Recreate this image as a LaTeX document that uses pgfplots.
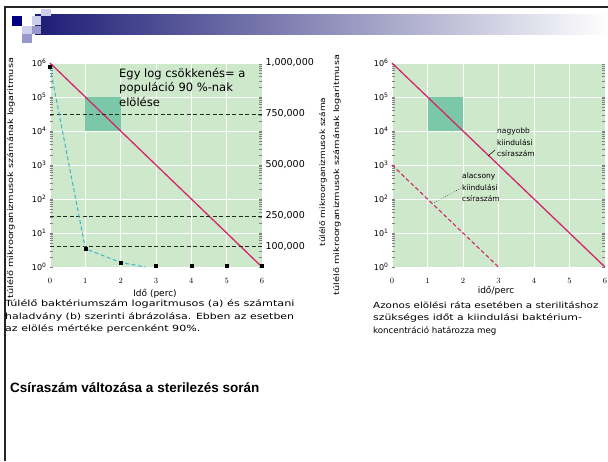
\documentclass[border=0pt]{standalone}
\usepackage{fontspec}
\setmainfont{DejaVu Sans}
\newfontfamily\titlefont{Liberation Sans}
\usepackage{graphicx}
\usepackage{pgfplots}
\pgfplotsset{compat=1.18}
\definecolor{bggreen}{RGB}{206,232,204}
\definecolor{tealc}{RGB}{122,200,168}
\definecolor{redl}{RGB}{212,38,108}
\definecolor{cyanl}{RGB}{60,182,202}
\definecolor{navyh}{RGB}{28,28,118}
\definecolor{navys}{RGB}{0,0,128}
\definecolor{lav1}{RGB}{206,206,234}
\definecolor{lav2}{RGB}{152,152,204}
\definecolor{dashc}{RGB}{30,45,30}
\begin{document}
\begin{tikzpicture}[x=1pt,y=1pt]
\path[use as bounding box, fill=white] (0,0) rectangle (608,461);
% header
\shade[left color=navyh, right color=white] (35,426) rectangle (608,446);
\fill[navys] (12,435) rectangle (22,445);
\fill[lav1] (32,436) rectangle (41,445);
\fill[lav1] (41,445) rectangle (51,452);
\fill[lav1] (22,427) rectangle (32,435);
\fill[lav2] (32,427) rectangle (41,435);
\fill[lav2] (22,418) rectangle (32,427);
\draw[line width=2pt, black!85] (5,0) -- (5,454) -- (608,454);

% ---------- left chart (log) ----------
\begin{axis}[anchor=south west, at={(50pt,194pt)}, scale only axis, width=212pt, height=204pt,
    xmin=0, xmax=6, ymode=log, ymin=1, ymax=1e6,
    axis background/.style={fill=bggreen},
    axis line style={draw=none}, major tick length=0pt,
    xtick={0,1,2,3,4,5,6},
    ytick={1,10,100,1000,10000,100000,1000000},
    yticklabels={10\textsuperscript{0},10\textsuperscript{1},10\textsuperscript{2},10\textsuperscript{3},10\textsuperscript{4},10\textsuperscript{5},10\textsuperscript{6}},
    ticklabel style={font=\fontsize{8}{9}\selectfont},
    xticklabel style={yshift=-8pt},
    grid=major, grid style={white, line width=0.7pt},
    clip=false]
\addplot[fill=tealc, draw=none] coordinates {(1,1e4) (2,1e4) (2,1e5) (1,1e5)} -- cycle;
\addplot[redl, line width=1.3pt] coordinates {(0,1e6) (6,1)};
\end{axis}
% ---------- left chart (linear) ----------
\begin{axis}[anchor=south west, at={(50pt,194pt)}, scale only axis, width=212pt, height=204pt,
  xmin=0, xmax=6, ymin=0, ymax=1e6, axis x line=none, axis y line*=right,
  y axis line style={draw=none}, major tick length=0pt, scaled y ticks=false,
  ytick={100000,250000,500000,750000,1000000},
  yticklabels={{100,000},{250,000},{500,000},{750,000},{1,000,000}},
  yticklabel style={font=\fontsize{9.5}{10}\selectfont, anchor=west},
  clip=false]
\addplot[dashc, line width=0.9pt, dash pattern=on 4pt off 2.5pt] coordinates {(0,750000) (6,750000)};
\addplot[dashc, line width=0.9pt, dash pattern=on 4pt off 2.5pt] coordinates {(0,250000) (6,250000)};
\addplot[dashc, line width=0.9pt, dash pattern=on 4pt off 2.5pt] coordinates {(0,100000) (6,100000)};
\addplot[cyanl, line width=1pt, dash pattern=on 4pt off 2.5pt] coordinates {(0,980000) (1,90000) (2,22000) (2.7,0)};
\addplot[only marks, mark=square*, mark size=1.6pt, black] coordinates {(0,980000) (1,90000) (2,22000) (3,5000) (4,5000) (5,5000) (6,5000)};
\end{axis}

% ---------- right chart ----------
\begin{axis}[anchor=south west, at={(392pt,194pt)}, scale only axis, width=213pt, height=204pt,
    xmin=0, xmax=6, ymode=log, ymin=1, ymax=1e6,
    axis background/.style={fill=bggreen},
    axis line style={draw=none}, major tick length=0pt,
    xtick={0,1,2,3,4,5,6},
    ytick={1,10,100,1000,10000,100000,1000000},
    yticklabels={10\textsuperscript{0},10\textsuperscript{1},10\textsuperscript{2},10\textsuperscript{3},10\textsuperscript{4},10\textsuperscript{5},10\textsuperscript{6}},
    ticklabel style={font=\fontsize{8}{9}\selectfont},
    xticklabel style={yshift=-8pt},
    grid=major, grid style={white, line width=0.7pt},
    clip=false]
\addplot[fill=tealc, draw=none] coordinates {(1,1e4) (2,1e4) (2,1e5) (1,1e5)} -- cycle;
\addplot[redl, line width=1.3pt] coordinates {(0,1e6) (6,1)};
\addplot[redl, line width=1.1pt, dash pattern=on 4pt off 2.5pt] coordinates {(0,1000) (3,1)};
\end{axis}

% ---------- texts ----------
\node[rotate=90, font=\fontsize{7.5}{8}\selectfont] at (11,283) {\scalebox{1.3}[1]{túlélő mikroorganizmusok számának logaritmusa}};
\node[rotate=90, font=\fontsize{7.5}{8}\selectfont] at (323,289) {\scalebox{1.2}[1]{túlélő mikroorganizmusok száma}};
\node[rotate=90, font=\fontsize{7.5}{8}\selectfont] at (337,286) {\scalebox{1.3}[1]{túlélő mikroorganizmusok számának logaritmusa}};
\node[font=\fontsize{9}{9}\selectfont] at (155,167) {Idő (perc)};
\node[font=\fontsize{9}{9}\selectfont] at (496,170) {idő/perc};

\node[anchor=north west, align=left, inner sep=0, font=\fontsize{11.5}{14.5}\selectfont] at (119,393) {Egy log csökkenés= a\\populáció 90 \%-nak\\elölése};
\node[anchor=north west, align=left, inner sep=0, font=\fontsize{7.5}{11.5}\selectfont] at (497,333) {nagyobb\\kiindulási\\csíraszám};
\node[anchor=north west, align=left, inner sep=0, font=\fontsize{7.5}{11.5}\selectfont] at (462,288) {alacsony\\kiindulási\\csíraszám};
\draw[line width=0.5pt] (495,311) -- (488,305);
\draw[line width=0.5pt, dotted] (461,273) -- (433,257.5);

\begin{scope}[every node/.style={anchor=west, inner sep=0, font=\fontsize{8.5}{10}\selectfont}]
\node at (5,157) {\scalebox{1.32}[1]{Túlélő baktériumszám logaritmusos (a) és számtani}};
\node at (5,144.5) {\scalebox{1.29}[1]{haladvány (b) szerinti ábrázolása. Ebben az esetben}};
\node at (5,132) {\scalebox{1.3}[1]{az elölés mértéke percenként 90\%.}};
\node at (373,156) {\scalebox{1.22}[1]{Azonos elölési ráta esetében a sterilitáshoz}};
\node at (373,143) {\scalebox{1.28}[1]{szükséges időt a kiindulási  baktérium-}};
\node at (373,130) {\scalebox{1.02}[1]{koncentráció határozza meg}};
\end{scope}
\node[anchor=west, inner sep=0, font=\titlefont\bfseries\fontsize{13.5}{15}\selectfont] at (10,73) {Csíraszám változása a sterilezés során};
\end{tikzpicture}
\end{document}
